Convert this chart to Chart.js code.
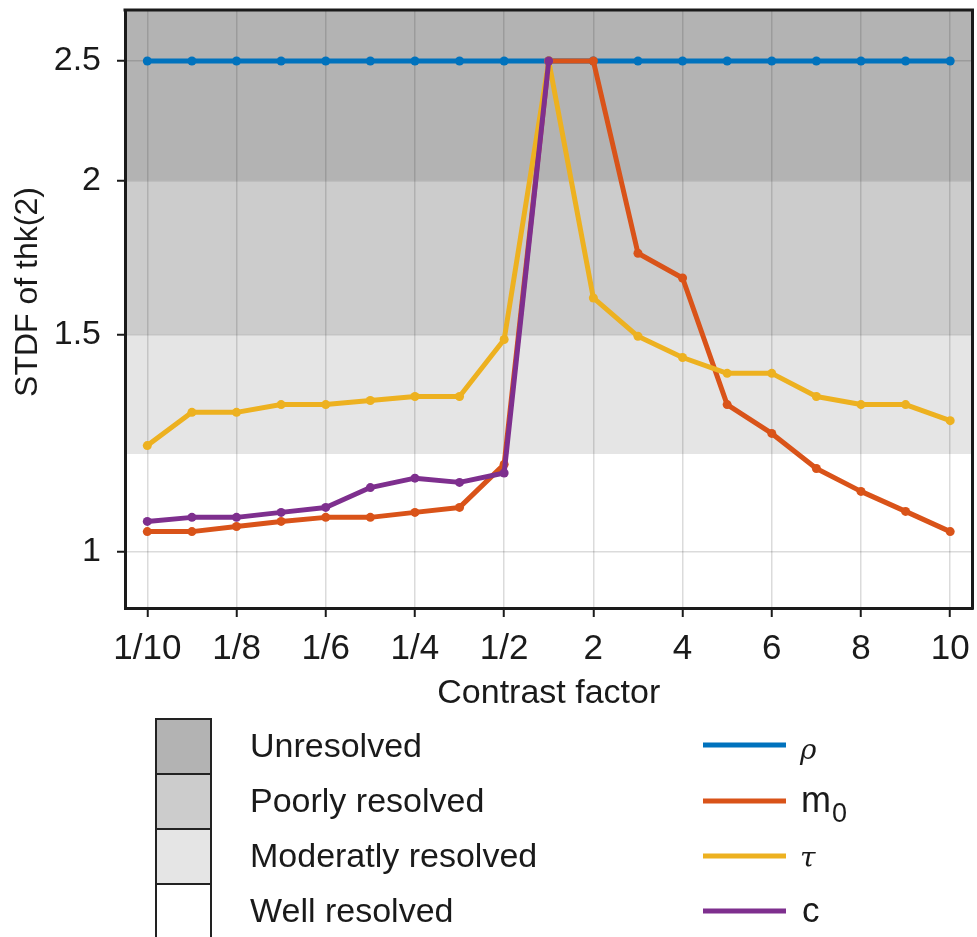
<!DOCTYPE html>
<html>
<head>
<meta charset="utf-8">
<script src="https://cdn.jsdelivr.net/npm/chart.js@4/dist/chart.umd.min.js"></script>
<style>
  html, body { margin: 0; padding: 0; background: #fff; }
  canvas { display: block; }
</style>
</head>
<body>
<canvas id="myChart" width="977" height="937"></canvas>
<script>
// contrast factors on the x axis, only every other one gets a label
const contrastFactors = ["1/10", "1/9", "1/8", "1/7", "1/6", "1/5", "1/4", "1/3", "1/2", "1",
  "2", "3", "4", "5", "6", "7", "8", "9", "10"];
const xTickLabels = ["1/10", "1/8", "1/6", "1/4", "1/2", "2", "4", "6", "8", "10"];
const yTickValues = [1, 1.5, 2, 2.5];

// STDF of thk(2) per parameter
const rhoValues = [2.5, 2.5, 2.5, 2.5, 2.5, 2.5, 2.5, 2.5, 2.5, 2.5,
  2.5, 2.5, 2.5, 2.5, 2.5, 2.5, 2.5, 2.5, 2.5];
const m0Values = [1.038, 1.038, 1.048, 1.058, 1.066, 1.066, 1.076, 1.086, 1.177, 2.5,
  2.5, 1.746, 1.667, 1.316, 1.247, 1.168, 1.119, 1.078, 1.038];
const tauValues = [1.219, 1.297, 1.297, 1.316, 1.316, 1.326, 1.336, 1.336, 1.486, 2.5,
  1.606, 1.495, 1.437, 1.395, 1.395, 1.336, 1.316, 1.316, 1.277];
const cValues = [1.058, 1.066, 1.066, 1.076, 1.086, 1.127, 1.147, 1.138, 1.158, 2.5,
  null, null, null, null, null, null, null, null, null];

// resolution classes: lower bound of each band
const bandLabels = ["Unresolved", "Poorly resolved", "Moderatly resolved", "Well resolved"];
const bandLower = [2, 1.5, 1.2, 0];
const bandColors = ["#b3b3b3", "#cccccc", "#e5e5e5", "#ffffff"];

const colors = {
  rho: "#0072bd",
  m0: "#d95319",
  tau: "#edb120",
  c: "#7e2f8e",
};

const textColor = "#1a1a1a";
const gridColor = "rgba(30, 30, 30, 0.16)";
const sans = '"Liberation Sans", Arial, sans-serif';
Chart.defaults.font.family = sans;

function lineSet(label, data, color, order) {
  return {
    label: label,
    data: data,
    borderColor: color,
    backgroundColor: color,
    borderWidth: 5,
    borderJoinStyle: "round",
    borderCapStyle: "round",
    pointRadius: 4.5,
    pointBorderWidth: 0,
    pointBackgroundColor: color,
    tension: 0,
    spanGaps: false,
    order: order,
  };
}

const extras = {
  id: "extras",
  beforeDraw(chart) {
    const { ctx, chartArea: a, scales: { y } } = chart;
    ctx.save();
    let upper = y.max;
    bandLower.forEach((low, i) => {
      const top = y.getPixelForValue(upper);
      const bottom = y.getPixelForValue(Math.max(low, y.min));
      ctx.fillStyle = bandColors[i];
      ctx.fillRect(a.left, top, a.right - a.left, bottom - top);
      upper = low;
    });
    ctx.restore();
  },
  afterDraw(chart) {
    const { ctx, chartArea: a } = chart;
    ctx.save();

    // top and right frame
    ctx.strokeStyle = textColor;
    ctx.lineWidth = 3;
    ctx.beginPath();
    ctx.moveTo(a.left - 1.5, a.top);
    ctx.lineTo(a.right, a.top);
    ctx.lineTo(a.right, a.bottom + 1.5);
    ctx.stroke();

    // y title
    ctx.fillStyle = textColor;
    ctx.font = "32px " + sans;
    ctx.textAlign = "center";
    ctx.textBaseline = "middle";
    ctx.translate(28, 292);
    ctx.rotate(-Math.PI / 2);
    ctx.fillText("STDF of thk(2)", 0, 0);
    ctx.setTransform(1, 0, 0, 1, 0, 0);

    // band legend
    const rowTop = 719, rowH = 55;
    ctx.textAlign = "left";
    ctx.textBaseline = "alphabetic";
    bandLabels.forEach((label, i) => {
      const yTop = rowTop + i * rowH;
      ctx.fillStyle = bandColors[i];
      ctx.fillRect(156, yTop, 55, rowH);
      ctx.strokeStyle = "#222";
      ctx.lineWidth = 2;
      ctx.strokeRect(156, yTop, 55, rowH);
      ctx.fillStyle = textColor;
      ctx.font = "34px " + sans;
      ctx.fillText(label, 250, yTop + 38);
    });

    // series legend
    const keys = ["rho", "m0", "tau", "c"];
    const lineY = [745, 801, 856, 911];
    keys.forEach((k, i) => {
      ctx.strokeStyle = colors[k];
      ctx.lineWidth = 5;
      ctx.beginPath();
      ctx.moveTo(703, lineY[i]);
      ctx.lineTo(786, lineY[i]);
      ctx.stroke();
    });
    ctx.fillStyle = textColor;
    ctx.font = 'italic 28px "DejaVu Serif", serif';
    ctx.fillText("\u03c1", 800, 759);
    ctx.fillText("\u03c4", 800, 867);
    ctx.font = "36px " + sans;
    ctx.fillText("m", 801, 812);
    ctx.font = "27px " + sans;
    ctx.fillText("0", 832, 822);
    ctx.font = "35px " + sans;
    ctx.fillText("c", 802, 922);

    ctx.restore();
  },
};

const ctx = document.getElementById("myChart");

new Chart(ctx, {
  type: "line",
  data: {
    labels: contrastFactors,
    datasets: [
      lineSet("\u03c1", rhoValues, colors.rho, 4),
      lineSet("m0", m0Values, colors.m0, 3),
      lineSet("\u03c4", tauValues, colors.tau, 2),
      lineSet("c", cValues, colors.c, 1),
    ],
  },
  options: {
    responsive: false,
    animation: false,
    layout: {
      padding: { top: 10, right: 3, bottom: 219, left: 0 },
    },
    plugins: {
      legend: { display: false },
      tooltip: { enabled: false },
    },
    scales: {
      x: {
        type: "category",
        offset: true,
        afterFit: (scale) => {
          scale.height = 110;
          scale.paddingLeft = 0;
          scale.paddingRight = 0;
        },
        grid: {
          color: (c) => (c.tick && c.tick.label !== "" ? gridColor : "rgba(0,0,0,0)"),
          tickColor: (c) => (c.tick && c.tick.label !== "" ? textColor : "rgba(0,0,0,0)"),
          lineWidth: 1.5,
          tickWidth: 2,
          tickLength: 9,
        },
        border: { color: textColor, width: 3 },
        ticks: {
          autoSkip: false,
          maxRotation: 0,
          padding: 11,
          color: textColor,
          font: { size: 35 },
          callback: (value, index) => {
            const label = contrastFactors[index];
            return xTickLabels.includes(label) ? label : "";
          },
        },
        title: {
          display: true,
          text: "Contrast factor",
          color: textColor,
          font: { size: 34 },
          padding: { top: 0, bottom: 4 },
        },
      },
      y: {
        type: "logarithmic",
        min: 0.9,
        max: 2.75,
        afterFit: (scale) => {
          scale.width = 125;
          scale.paddingTop = 0;
          scale.paddingBottom = 0;
        },
        afterBuildTicks: (scale) => {
          scale.ticks = yTickValues.map((v) => ({ value: v }));
        },
        grid: {
          color: gridColor,
          tickColor: textColor,
          lineWidth: 1.5,
          tickWidth: 2,
          tickLength: 8,
        },
        border: { color: textColor, width: 3 },
        ticks: {
          padding: 16,
          color: textColor,
          font: { size: 34 },
          callback: (value) => (yTickValues.includes(value) ? String(value) : ""),
        },
      },
    },
  },
  plugins: [extras],
});
</script>
</body>
</html>
